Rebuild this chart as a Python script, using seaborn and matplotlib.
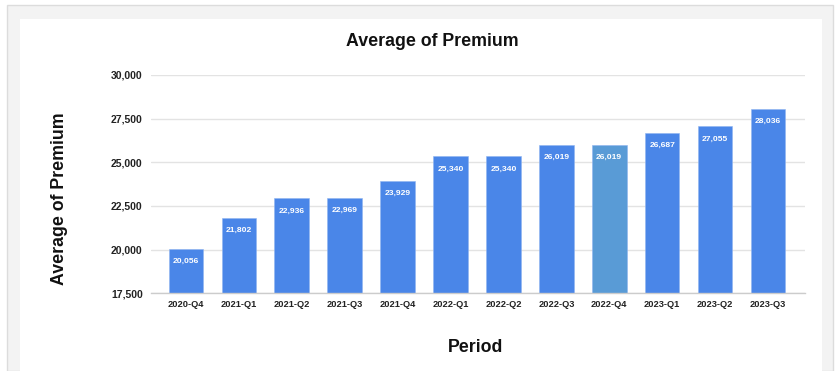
import matplotlib
matplotlib.use("Agg")
import matplotlib.pyplot as plt
from matplotlib.patches import Rectangle
from matplotlib.ticker import FuncFormatter
import seaborn as sns
import pandas as pd

periods = ["2020-Q4", "2021-Q1", "2021-Q2", "2021-Q3", "2021-Q4", "2022-Q1",
           "2022-Q2", "2022-Q3", "2022-Q4", "2023-Q1", "2023-Q2", "2023-Q3"]
premium = [20056, 21802, 22936, 22969, 23929, 25340, 25340, 26019, 26019, 26687, 27055, 28036]
highlight = "2022-Q4"

base_color = "#4a86e8"
hi_color = "#599bd6"

sns.set_theme(style="white")
plt.rcParams['font.family'] = ['Liberation Sans', 'DejaVu Sans']

W, H = 838, 371
fig = plt.figure(figsize=(W / 100, H / 100), dpi=100, facecolor="white")

def px(x0, y0, x1, y1):
    return (x0 / W, 1 - y1 / H), (x1 - x0) / W, (y1 - y0) / H

xy, w, h = px(7, 5, 833, 371)
fig.patches.append(Rectangle(xy, w, h, transform=fig.transFigure, facecolor="#f3f3f3",
                             edgecolor="#dcdcdc", linewidth=1.0, zorder=-2))
xy, w, h = px(20, 19, 822, 372)
fig.patches.append(Rectangle(xy, w, h, transform=fig.transFigure, facecolor="white",
                             edgecolor="none", zorder=-1))

ax = fig.add_axes([151 / W, 1 - 293.3 / H, (804.5 - 151) / W, (293.3 - 75) / H])
ax.set_facecolor("none")
ax.set_zorder(1)

df = pd.DataFrame({"Period": periods, "Premium": premium})
palette = {p: (hi_color if p == highlight else base_color) for p in periods}
sns.barplot(data=df, x="Period", y="Premium", hue="Period", palette=palette,
            width=0.655, saturation=1, legend=False, ax=ax, zorder=2,
            edgecolor="#8fb4f0", linewidth=0.4)

ax.set_xlim(-0.66, 11.69)
ax.set_ylim(17500, 30000)
ax.set_yticks([17500, 20000, 22500, 25000, 27500, 30000])
ax.yaxis.set_major_formatter(FuncFormatter(lambda v, _: f"{int(v):,}"))
ax.grid(axis="y", color="#e3e3e3", linewidth=1.0, zorder=0)
ax.grid(axis="x", visible=False)
ax.set_axisbelow(True)
for s in ["top", "right", "left"]:
    ax.spines[s].set_visible(False)
ax.spines["bottom"].set_color("#cccccc")
ax.spines["bottom"].set_linewidth(1.0)
ax.spines["bottom"].set_zorder(3)
ax.tick_params(axis="both", length=0)
ax.tick_params(axis="x", pad=5, labelsize=6.7, labelcolor="#222222")
ax.tick_params(axis="y", pad=6, labelsize=7.5, labelcolor="#222222")
for lab in ax.get_xticklabels() + ax.get_yticklabels():
    lab.set_fontweight("bold")

for i, v in enumerate(premium):
    ax.annotate(f"{v:,}", xy=(i, v), xytext=(0, -9), textcoords="offset points",
                ha="center", va="center", color="white", fontsize=6.1,
                fontweight="bold", zorder=4)

ax.set_xlabel("")
ax.set_ylabel("")
fig.text(432 / W, 1 - 42 / H, "Average of Premium", ha="center", va="center",
         fontsize=12.8, fontweight="bold", color="#111111")
fig.text(60 / W, 1 - 199 / H, "Average of Premium", ha="center", va="center",
         rotation=90, fontsize=12.8, fontweight="bold", color="#111111")
fig.text(476 / W, 1 - 347 / H, "Period", ha="center", va="center",
         fontsize=12.8, fontweight="bold", color="#111111")

fig.savefig("out.png", dpi=100, facecolor="white")
